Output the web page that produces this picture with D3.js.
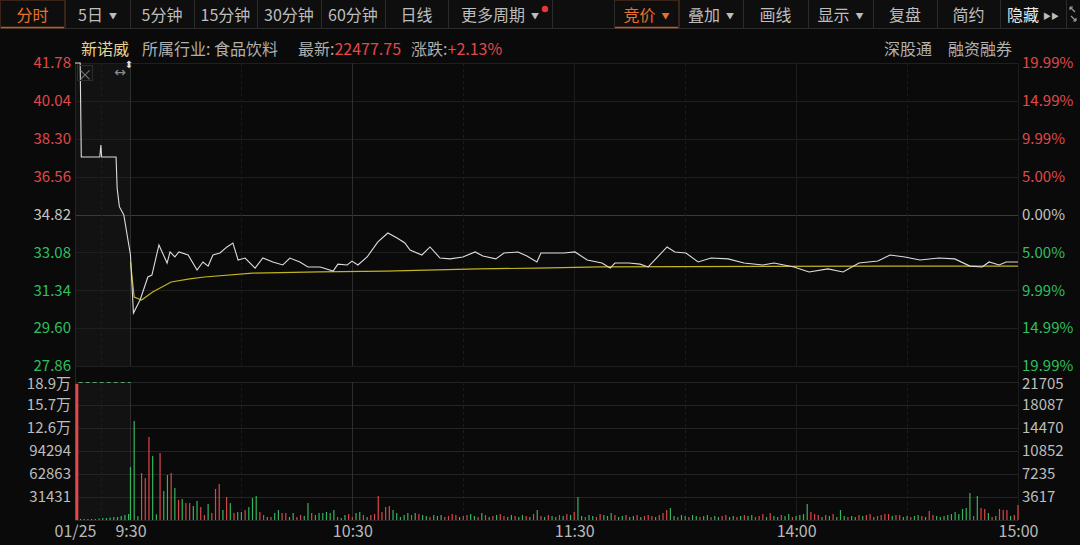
<!DOCTYPE html>
<html>
<head>
<meta charset="utf-8">
<script src="https://cdn.jsdelivr.net/npm/d3@7"></script>
<style>
  body { margin: 0; background: #0a0a0a; overflow: hidden; }
  svg { display: block; font-family: "Noto Sans CJK SC", "Noto Sans", sans-serif; }
</style>
</head>
<body>
<svg id="chart" width="1080" height="545"></svg>
<script>
// ---- data ----
var prevClose = 34.82
var priceTicks = [41.78, 40.04, 38.30, 36.56, 34.82, 33.08, 31.34, 29.60, 27.86]
var pctLabels = ['19.99%', '14.99%', '9.99%', '5.00%', '0.00%', '5.00%', '9.99%', '14.99%', '19.99%']
var volLeftLabels = ['31431', '62863', '94294', '12.6万', '15.7万', '18.9万']
var volRightLabels = ['3617', '7235', '10852', '14470', '18087', '21705']
var timeTicks = [-15, 0, 60, 120, 180, 240]
var timeLabels = ['01/25', '9:30', '10:30', '11:30', '14:00', '15:00']

// minutes from 9:30 (negative = call auction part on the left)
var priceMin = [-15, -13.6, -13.3, -8.3, -8.0, -7.8, -3.9, -3.6, -3.0, -1.8, 0,
  0.8, 2.6, 4.7, 5.8, 7.7, 9.9, 10.7, 12, 13.1, 15.6, 18, 19.6, 21, 22.3, 24.2, 26.1, 27.7,
  29.1, 31, 33.7, 35.8, 38.5, 41.2, 43.1, 45.8, 48, 51.3, 54.8, 56.1, 58.6, 59.9, 61.5,
  64, 66.9, 69.6, 72.1, 74.2, 75.6, 78.8, 81, 83.7, 86.4, 89.9, 93.2, 95.3, 98.8, 101,
  104.8, 107.2, 109.9, 111, 117.2, 120.2, 123.5, 127.5, 129.7, 131, 134.8, 137.8, 140,
  145.1, 147.2, 150.2, 153.5, 157, 161.6, 165.9, 171, 174, 179.4, 183.5, 188.6, 192.7,
  197, 202.1, 205.4, 209.4, 213.5, 218.6, 222.9, 227, 230.3, 232.2, 234.9, 236.8, 240]
var priceVal = [41.78, 41.78, 37.46, 37.46, 38.01, 37.46, 37.46, 36.02, 35.18, 34.80, 32.96,
  30.29, 30.89, 31.95, 32.04, 33.42, 32.59, 33.10, 32.87, 33.10, 32.96, 32.27, 32.64, 32.45, 32.96, 33.05, 33.33, 33.51,
  32.73, 32.82, 32.36, 32.82, 32.64, 32.50, 32.82, 32.64, 32.41, 32.41, 32.22, 32.54, 32.50, 32.68, 32.50,
  32.87, 33.56, 33.97, 33.74, 33.51, 33.19, 32.96, 33.33, 32.82, 32.78, 32.87, 33.10, 32.91, 32.78, 33.05,
  33.10, 32.91, 32.64, 33.05, 33.05, 33.10, 32.73, 32.59, 32.36, 32.59, 32.59, 32.54, 32.41,
  33.33, 33.10, 33.05, 32.64, 32.82, 32.78, 32.59, 32.50, 32.59, 32.41, 32.18, 32.32, 32.18,
  32.59, 32.68, 32.96, 32.87, 32.73, 32.82, 32.78, 32.45, 32.41, 32.64, 32.50, 32.64, 32.64]

var avgMin = [0, 1, 3, 6, 11, 16, 20, 33, 51, 69, 94, 110, 127, 205, 240]
var avgVal = [32.64, 31.03, 30.89, 31.26, 31.72, 31.86, 31.95, 32.13, 32.18, 32.22, 32.32, 32.36, 32.41, 32.45, 32.45]

// call auction volume (left scale), one bar per step starting at -14.5
var auctionVol = [186000, 1400, 1400, 1400, 1400, 1400, 2000, 2700, 2700, 3400, 4100, 4100, 5500, 6800, 8200]
var auctionSide = 'rgggggggggggggg'

// volume per minute 9:30 .. 15:00 (right scale)
var volume = [
  8340, 15570, 600, 7390, 6600, 13050, 10070, 900, 10540, 4560,
  7080, 7390, 5030, 3150, 3300, 2670, 2670, 2200, 2990, 2040,
  790, 2520, 1100, 4880, 5660, 1570, 3620, 2670, 1100, 1260,
  1260, 1570, 2040, 3460, 3780, 1260, 790, 470, 470, 1100,
  1570, 1100, 1100, 470, 1100, 470, 790, 630, 2670, 1100,
  790, 1100, 1100, 1260, 1100, 1570, 470, 310, 790, 940,
  470, 1100, 1260, 790, 470, 790, 940, 3780, 1260, 2040,
  2200, 1570, 1100, 470, 790, 1100, 790, 1100, 940, 790,
  630, 470, 790, 630, 790, 470, 630, 940, 790, 470,
  630, 790, 940, 630, 470, 1100, 790, 470, 630, 790,
  940, 630, 470, 790, 630, 470, 790, 630, 470, 940,
  1570, 630, 470, 790, 630, 470, 790, 630, 940, 790,
  1260, 3620, 630, 470, 790, 630, 470, 940, 790, 630,
  1100, 790, 470, 630, 790, 470, 630, 790, 470, 630,
  790, 630, 470, 790, 1100, 1570, 1890, 630, 470, 790,
  630, 470, 790, 630, 470, 630, 790, 470, 630, 470,
  630, 790, 470, 630, 470, 630, 790, 630, 790, 470,
  630, 940, 470, 1100, 630, 470, 790, 630, 940, 470,
  630, 790, 940, 2520, 1260, 940, 790, 470, 790, 630,
  940, 470, 1570, 630, 470, 630, 470, 790, 630, 790,
  940, 470, 630, 790, 940, 940, 630, 790, 790, 470,
  630, 470, 630, 790, 630, 470, 1420, 790, 630, 470,
  630, 790, 940, 1260, 940, 1730, 1890, 4250, 630, 3780,
  1890, 1730, 1100, 470, 630, 1730, 1570, 1570, 630, 790,
  2360]
var volSide = ('gggrrrggrg' + 'grgrgrrggr' + 'rgrrrgrgrg' + 'grgggrrgrg' + 'grrggrrggr' +
  'ggggggrggr' + 'rggrgrrrrr' + 'rgggggrgrg' + 'grgggrrrrg' + 'rrggrgrgrg' +
  'rrggrggrgr' + 'grgrggrgrg' + 'rggrggrrgg' + 'grggrggrgr' + 'rrgrrrggrg' +
  'grggrggrgg' + 'rrggrgrggr' + 'rrgrggrggr' + 'ggggrrrgrg' + 'rgggrggrgr' +
  'rgrrrrgrrg' + 'grggrgrrgg' + 'ggggggggrg' + 'rrgrgrrrgr' + 'r')

var leftTools = ['分时', '5日', '5分钟', '15分钟', '30分钟', '60分钟', '日线', '更多周期']
var rightTools = ['竞价', '叠加', '画线', '显示', '复盘', '简约', '隐藏']

// ---- colours ----
var RED = '#e2474b', GREEN = '#2fbf60', GRAY = '#c4c4c4', ORANGE = '#e8722c'

var svg = d3.select('#chart')
svg.append('rect').attr('width', 1080).attr('height', 545).attr('fill', '#0a0a0a')

var x = d3.scaleLinear().domain([-15, 240]).range([75, 1018])
var yP = d3.scaleLinear().domain([27.86, 41.78]).range([366, 63])
var yV = d3.scaleLinear().domain([0, 21705]).range([520, 382])
var yVa = d3.scaleLinear().domain([0, 188586]).range([520, 382])

function priceColor(p) {
  if (Math.abs(p - prevClose) < 0.001) return GRAY
  return p > prevClose ? RED : GREEN
}

// ---- toolbar ----
var tb = svg.append('g')
tb.append('rect').attr('width', 1080).attr('height', 28).attr('fill', '#0e0e0e')
tb.append('line').attr('x1', 0).attr('x2', 1080).attr('y1', 28.5).attr('y2', 28.5).attr('stroke', '#2b2b2b')
var leftEdges = [0, 65, 130, 194, 257, 321, 385, 448, 552]
var rightEdges = [614, 679, 743, 808, 873, 937, 1000, 1066]
var leftArrow = [false, true, false, false, false, false, false, true]
var rightArrow = [true, true, false, true, false, false, false]

function drawTools(labels, edges, arrows, selected) {
  labels.forEach(function (t, i) {
    var x0 = edges[i], x1 = edges[i + 1]
    tb.append('line').attr('x1', x1 + 0.5).attr('x2', x1 + 0.5).attr('y1', 0).attr('y2', 28)
      .attr('stroke', '#2b2b2b')
    var col = i === selected ? ORANGE : (t === '隐藏' ? '#e6e6e6' : '#bdbdbd')
    if (i === selected) {
      tb.append('rect').attr('x', x0 + 0.5).attr('y', 0.5).attr('width', x1 - x0 - 1).attr('height', 27)
        .attr('fill', 'none').attr('stroke', '#3a2418')
      tb.append('line').attr('x1', x0 + 1).attr('x2', x1 - 1).attr('y1', 27.5).attr('y2', 27.5)
        .attr('stroke', '#c85a1e').attr('stroke-width', 1.5)
    }
    var txt = tb.append('text').attr('x', (x0 + x1) / 2).attr('y', 14)
      .attr('text-anchor', 'middle').attr('dominant-baseline', 'central')
      .attr('font-size', 16).attr('fill', col).text(t)
    if (arrows[i]) {
      txt.append('tspan').attr('font-size', 8).attr('dx', 6).attr('dy', 1).attr('fill', i === selected ? ORANGE : '#bdbdbd').text('▼')
    }
    if (t === '隐藏') {
      txt.append('tspan').attr('font-size', 8).attr('dx', 4).attr('dy', 1).attr('fill', '#bdbdbd').text('▶▶')
    }
  })
}
drawTools(leftTools, leftEdges, leftArrow, 0)
drawTools(rightTools, rightEdges, rightArrow, 0)
tb.append('line').attr('x1', 614.5).attr('x2', 614.5).attr('y1', 0).attr('y2', 28).attr('stroke', '#2b2b2b')
tb.append('circle').attr('cx', 545).attr('cy', 9).attr('r', 3.2).attr('fill', '#e8333a')
// expand icon
var ex = tb.append('g').attr('stroke', '#9a9a9a').attr('stroke-width', 1.2).attr('fill', 'none')
ex.append('path').attr('d', 'M1070,7 L1075,12 M1070,7 L1070,10 M1070,7 L1073,7')
ex.append('path').attr('d', 'M1076,21 L1071,16 M1076,21 L1076,18 M1076,21 L1073,21')

// ---- info line ----
var info = svg.append('text').attr('y', 48).attr('dominant-baseline', 'central').attr('font-size', 16)
info.append('tspan').attr('x', 81).attr('fill', '#e4d596').text('新诺威')
info.append('tspan').attr('x', 142).attr('fill', '#b0b0b0').text('所属行业: 食品饮料')
info.append('tspan').attr('x', 298).attr('fill', '#b0b0b0').text('最新:')
info.append('tspan').attr('fill', RED).text('22477.75')
info.append('tspan').attr('dx', 10).attr('fill', '#b0b0b0').text('涨跌:')
info.append('tspan').attr('fill', RED).text('+2.13%')
svg.append('text').attr('x', 884).attr('y', 48).attr('dominant-baseline', 'central').attr('font-size', 16)
  .attr('fill', '#b0b0b0').text('深股通')
svg.append('text').attr('x', 948).attr('y', 48).attr('dominant-baseline', 'central').attr('font-size', 16)
  .attr('fill', '#b0b0b0').text('融资融券')

// ---- backgrounds / grid ----
svg.append('rect').attr('x', x(-15)).attr('y', 63).attr('width', x(0) - x(-15)).attr('height', 303).attr('fill', '#121212')
svg.append('rect').attr('x', x(-15)).attr('y', 382).attr('width', x(0) - x(-15)).attr('height', 138).attr('fill', '#121212')

var grid = svg.append('g')
priceTicks.forEach(function (p) {
  grid.append('line').attr('x1', 75).attr('x2', 1018).attr('y1', Math.round(yP(p)) + 0.5).attr('y2', Math.round(yP(p)) + 0.5)
    .attr('stroke', p === prevClose ? '#3a3a3a' : '#1f1f1f')
})
d3.range(1, 7).forEach(function (k) {
  var yy = Math.round(yV(k * 21705 / 6)) + 0.5
  grid.append('line').attr('x1', 75).attr('x2', 1018).attr('y1', yy).attr('y2', yy).attr('stroke', '#242424')
})
var vLines = [-8, 0, 30, 60, 90, 120, 150, 180, 210]
vLines.forEach(function (m) {
  var xx = Math.round(x(m)) + 0.5
  var strong = (m === 0 || m === 60)
  ;[[63, 366], [382, 520]].forEach(function (r) {
    grid.append('line').attr('x1', xx).attr('x2', xx).attr('y1', r[0]).attr('y2', r[1])
      .attr('stroke', strong ? '#2e2e2e' : '#1c1c1c')
      .attr('stroke-dasharray', (m % 60 === 30 || m === -8) ? '3,3' : null)
  })
})
grid.append('line').attr('x1', 75.5).attr('x2', 75.5).attr('y1', 63).attr('y2', 520).attr('stroke', '#262626')
grid.append('line').attr('x1', 1018.5).attr('x2', 1018.5).attr('y1', 63).attr('y2', 520).attr('stroke', '#1c1c1c')
grid.append('line').attr('x1', 75).attr('x2', 1018).attr('y1', 520.5).attr('y2', 520.5).attr('stroke', '#262626')

// ---- axes ----
function styleAxis(g) {
  g.select('.domain').remove()
  g.selectAll('line').remove()
  g.selectAll('text').attr('font-size', 15).attr('font-family', '"Noto Sans CJK SC", "Noto Sans", sans-serif')
}
var axL = svg.append('g').attr('transform', 'translate(73,0)')
  .call(d3.axisLeft(yP).tickValues(priceTicks).tickSize(0).tickPadding(2).tickFormat(d3.format('.2f')))
styleAxis(axL)
axL.selectAll('text').attr('fill', function (d) { return priceColor(d) })

var axR = svg.append('g').attr('transform', 'translate(1020,0)')
  .call(d3.axisRight(yP).tickValues(priceTicks).tickSize(0).tickPadding(2)
    .tickFormat(function (d, i) { return pctLabels[i] }))
styleAxis(axR)
axR.selectAll('text').attr('fill', function (d) { return priceColor(d) })

var vTicksL = d3.range(1, 7).map(function (k) { return k * 31431 })
var axVL = svg.append('g').attr('transform', 'translate(73,0)')
  .call(d3.axisLeft(yVa).tickValues(vTicksL).tickSize(0).tickPadding(2)
    .tickFormat(function (d, i) { return volLeftLabels[i] }))
styleAxis(axVL)
axVL.selectAll('text').attr('fill', '#bdbdbd')

var vTicksR = d3.range(1, 7).map(function (k) { return k * 21705 / 6 })
var axVR = svg.append('g').attr('transform', 'translate(1020,0)')
  .call(d3.axisRight(yV).tickValues(vTicksR).tickSize(0).tickPadding(2)
    .tickFormat(function (d, i) { return volRightLabels[i] }))
styleAxis(axVR)
axVR.selectAll('text').attr('fill', '#bdbdbd')

// nudge the top volume labels a little away from the lowest price labels
axVL.selectAll('.tick').filter(function (d, i) { return i === 5 }).select('text').attr('dy', '0.45em')
axVR.selectAll('.tick').filter(function (d, i) { return i === 5 }).select('text').attr('dy', '0.45em')

var axB = svg.append('g').attr('transform', 'translate(0,524)')
  .call(d3.axisBottom(x).tickValues(timeTicks).tickSize(0).tickPadding(2)
    .tickFormat(function (d, i) { return timeLabels[i] }))
styleAxis(axB)
axB.selectAll('text').attr('fill', '#b8b8b8').attr('font-size', 16)

// ---- volume bars ----
svg.append('g').selectAll('rect.av').data(auctionVol).enter().append('rect')
  .attr('x', function (d, i) { return x(-14.5 + i) - (i === 0 ? 1.5 : 0.6) })
  .attr('width', function (d, i) { return i === 0 ? 3 : 1.2 })
  .attr('y', function (d) { return yVa(d) })
  .attr('height', function (d) { return 520 - yVa(d) })
  .attr('fill', function (d, i) { return auctionSide[i] === 'r' ? RED : GREEN })
svg.append('line').attr('x1', x(-14)).attr('x2', x(0)).attr('y1', 382.5).attr('y2', 382.5)
  .attr('stroke', '#5f9f6c').attr('stroke-dasharray', '4,3').attr('stroke-width', 1)

svg.append('g').selectAll('rect.v').data(volume).enter().append('rect')
  .attr('x', function (d, i) { return x(i) - 0.6 })
  .attr('width', 1.2)
  .attr('y', function (d) { return yV(d) })
  .attr('height', function (d) { return 520 - yV(d) })
  .attr('fill', function (d, i) { return volSide[i] === 'r' ? '#d9474d' : '#34b45c' })

// ---- price & average lines ----
var pricePts = priceMin.map(function (m, i) { return [m, priceVal[i]] })
var avgPts = avgMin.map(function (m, i) { return [m, avgVal[i]] })
var line = d3.line().x(function (d) { return x(d[0]) }).y(function (d) { return yP(d[1]) })

svg.append('path').datum(avgPts).attr('d', line).attr('fill', 'none')
  .attr('stroke', '#c2b321').attr('stroke-width', 1.2)
svg.append('path').datum(pricePts).attr('d', line).attr('fill', 'none')
  .attr('stroke', '#dcdcdc').attr('stroke-width', 1.1)

// ---- small widgets in the auction box ----
svg.append('rect').attr('x', 77.5).attr('y', 65.5).attr('width', 15).attr('height', 15)
  .attr('fill', 'none').attr('stroke', '#2c2c2c')
svg.append('text').attr('x', 85).attr('y', 73).attr('text-anchor', 'middle').attr('dominant-baseline', 'central')
  .attr('font-size', 15).attr('fill', '#777').text('×')
svg.append('text').attr('x', 120).attr('y', 72).attr('text-anchor', 'middle').attr('dominant-baseline', 'central')
  .attr('font-family', 'DejaVu Sans').attr('font-size', 14).attr('fill', '#8a8a8a').text('↔')
svg.append('text').attr('x', 129).attr('y', 64).attr('text-anchor', 'middle').attr('dominant-baseline', 'central')
  .attr('font-family', 'DejaVu Sans').attr('font-size', 10).attr('fill', '#dddddd').text('⬍')
</script>
</body>
</html>
